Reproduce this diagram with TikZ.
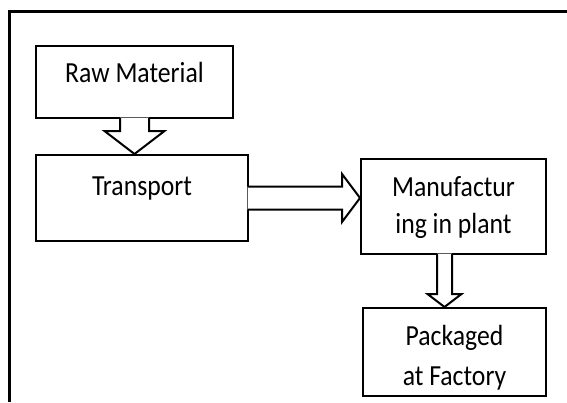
\documentclass[tikz,border=0pt]{standalone}
\usepackage{fontspec}
\setmainfont{Carlito}
\usetikzlibrary{calc}
\newcommand{\tallword}[1]{\scalebox{0.97}[1.1]{#1}}
\tikzset{
  stagebox/.style={draw, line width=2pt, inner sep=0pt, fill=white},
  label/.style={anchor=base, inner sep=0pt, font=\fontsize{26.5}{30}\selectfont},
  blockarrow/.style={line width=2pt, line join=miter},
}
\begin{document}
\begin{tikzpicture}[x=1pt,y=-1pt]
  \useasboundingbox (0,0) rectangle (567,402);
  % frame along the left and top edges
  \draw[line width=3pt] (9,402) -- (9,11) -- (567,11);

  % stage boxes
  \node[stagebox, minimum width=197pt, minimum height=72pt] (raw) at (134.5,82) {};
  \node[stagebox, minimum width=212pt, minimum height=86pt] (trans) at (142,198) {};
  \node[stagebox, minimum width=185pt, minimum height=95pt] (manuf) at (453.5,206.5) {};
  \node[stagebox, minimum width=183pt, minimum height=88pt] (pack) at (454.5,352) {};

  % labels
  \node[label] (rawtxt) at (134.5,82) {\tallword{Raw Material}};
  \node[label] (transtxt) at (142,195) {\tallword{Transport}};
  \node[label] (manufa) at (453.5,196) {\tallword{Manufactur}};
  \node[label] (manufb) at (453.5,233) {\tallword{ing in plant}};
  \node[label] (packa) at (454.5,345) {\tallword{Packaged}};
  \begin{scope}
    \clip (365,310) rectangle (544,389);
    \node[label] (packb) at (454.5,385) {\tallword{at Factory}};
  \end{scope}

  % block arrow: raw material -> transport
  \coordinate (s1) at (raw.south);
  \coordinate (t1) at (s1 |- trans.north);
  \fill[white] ($(s1)+(-14.5,-1.5)$) -- ($(s1)+(-14.5,12)$) -- ($(s1)+(-30,12)$) -- (t1)
    -- ($(s1)+(30,12)$) -- ($(s1)+(14.5,12)$) -- ($(s1)+(14.5,-1.5)$) -- cycle;
  \draw[blockarrow] ($(s1)+(-14.5,-1)$) -- ($(s1)+(-14.5,12)$) -- ($(s1)+(-30,12)$) -- (t1)
    -- ($(s1)+(30,12)$) -- ($(s1)+(14.5,12)$) -- ($(s1)+(14.5,-1)$);

  % block arrow: transport -> manufacturing
  \coordinate (s2) at (trans.east);
  \coordinate (t2) at (s2 -| manuf.west);
  \fill[white] ($(s2)+(-1.5,-11.5)$) -- ($(s2)+(93,-11.5)$) -- ($(s2)+(93,-24)$) -- (t2)
    -- ($(s2)+(93,24)$) -- ($(s2)+(93,11.5)$) -- ($(s2)+(-1.5,11.5)$) -- cycle;
  \draw[blockarrow] ($(s2)+(-1,-11.5)$) -- ($(s2)+(93,-11.5)$) -- ($(s2)+(93,-24)$) -- (t2)
    -- ($(s2)+(93,24)$) -- ($(s2)+(93,11.5)$) -- ($(s2)+(-1,11.5)$);

  % block arrow: manufacturing -> packaged
  \coordinate (s3) at ($(manuf.south)+(-9,0)$);
  \coordinate (t3) at (s3 |- pack.north);
  \fill[white] ($(s3)+(-7.5,-1.5)$) -- ($(s3)+(-7.5,39)$) -- ($(s3)+(-17,39)$) -- (t3)
    -- ($(s3)+(17,39)$) -- ($(s3)+(7.5,39)$) -- ($(s3)+(7.5,-1.5)$) -- cycle;
  \draw[blockarrow] ($(s3)+(-7.5,-1)$) -- ($(s3)+(-7.5,39)$) -- ($(s3)+(-17,39)$) -- (t3)
    -- ($(s3)+(17,39)$) -- ($(s3)+(7.5,39)$) -- ($(s3)+(7.5,-1)$);
\end{tikzpicture}
\end{document}
